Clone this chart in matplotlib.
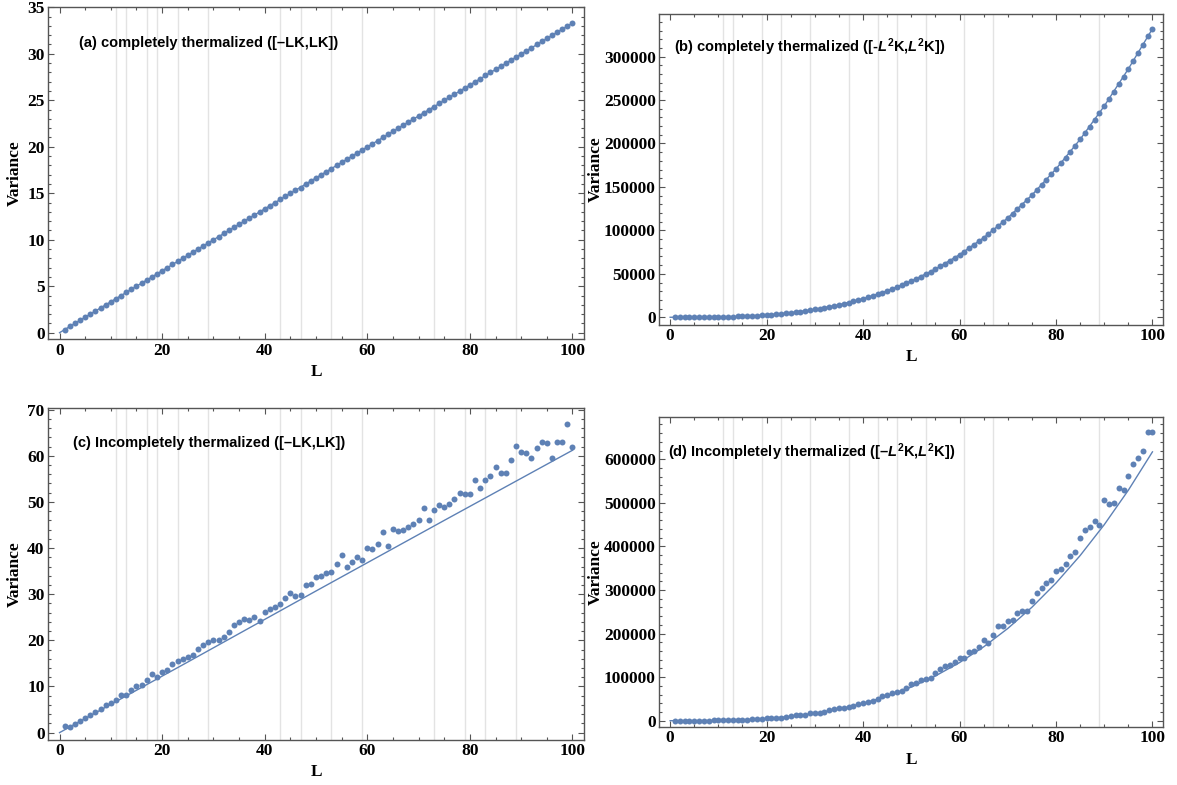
import matplotlib
matplotlib.use("Agg")
import matplotlib.pyplot as plt
from matplotlib.ticker import MultipleLocator

W, H = 1177, 785

L = list(range(1, 101))

# (a) completely thermalized, [-LK, LK]
var_a = [0.33, 0.68, 1.01, 1.33, 1.66, 2.00, 2.34, 2.66, 3.01, 3.33,
         3.67, 4.00, 4.33, 4.67, 5.00, 5.34, 5.66, 6.00, 6.34, 6.67,
         7.00, 7.34, 7.66, 8.00, 8.33, 8.67, 9.00, 9.33, 9.68, 10.0,
         10.33, 10.67, 11.0, 11.33, 11.66, 12.0, 12.34, 12.66, 13.0, 13.33,
         13.67, 14.0, 14.33, 14.68, 15.0, 15.3, 15.55, 16.0, 16.33, 16.66,
         17.0, 17.33, 17.66, 18.0, 18.33, 18.67, 19.0, 19.33, 19.67, 20.0,
         20.33, 20.66, 21.0, 21.33, 21.67, 22.0, 22.33, 22.67, 23.0, 23.33,
         23.67, 24.0, 24.33, 24.67, 25.0, 25.33, 25.67, 26.0, 26.33, 26.67,
         27.0, 27.33, 27.67, 28.0, 28.33, 28.67, 29.0, 29.33, 29.67, 30.0,
         30.33, 30.67, 31.0, 31.33, 31.67, 32.0, 32.33, 32.67, 33.0, 33.3]
line_a_L = [0, 100]
line_a = [0, 33.3]

# (b) completely thermalized, [-L^2K, L^2K]
var_b = [0.3, 3, 9, 21, 42, 72, 114, 171, 243, 333,
         444, 576, 732, 915, 1125, 1365, 1638, 1944, 2286, 2667,
         3087, 3549, 4056, 4608, 5208, 5859, 6561, 7317, 8130, 9000,
         9930, 10920, 11980, 13100, 14290, 15550, 16880, 18290, 19770, 21330,
         22970, 24700, 26500, 28400, 30370, 32440, 34600, 36860, 39210, 41660,
         44210, 46860, 49620, 52480, 55450, 58530, 61720, 65030, 68450, 71990,
         75650, 79430, 83340, 87370, 91530, 95820, 100240, 104800, 109490, 114320,
         119290, 124400, 129650, 135050, 140600, 146300, 152150, 158150, 164310, 170620,
         177100, 183740, 190540, 197500, 204640, 211940, 219420, 227070, 234890, 242890,
         251070, 259430, 267980, 276710, 285630, 294730, 304020, 313500, 323170, 331400]
line_b_L = [0, 5, 10, 15, 20, 25, 30, 35, 40, 45, 50,
            55, 60, 65, 70, 75, 80, 85, 90, 95, 100]
line_b = [0, 42, 333, 1125, 2667, 5208, 9000, 14292, 21333, 30375, 41667,
          55458, 72000, 91542, 114333, 140625, 170667, 204708, 243000, 285792, 332000]

# (c) incompletely thermalized, [-LK, LK]
var_c = [1.5, 1.3, 1.9, 2.5, 3.1, 3.8, 4.4, 5.2, 5.9, 6.4,
         7.0, 8.2, 8.1, 9.3, 10.0, 10.3, 11.3, 12.6, 12.0, 13.2,
         13.6, 14.8, 15.6, 15.9, 16.3, 16.8, 18.1, 18.9, 19.6, 20.0,
         20.0, 20.8, 21.8, 23.3, 23.9, 24.7, 24.5, 25.1, 24.3, 26.2,
         26.8, 27.2, 27.9, 29.1, 30.2, 29.7, 29.9, 32.0, 32.2, 33.7,
         33.9, 34.7, 34.8, 36.5, 38.5, 35.8, 36.9, 38.0, 37.5, 40.1,
         39.8, 40.9, 43.5, 40.5, 44.1, 43.8, 43.9, 44.5, 45.2, 46.1,
         48.7, 46.0, 48.2, 49.3, 48.9, 49.6, 50.6, 52.0, 51.7, 51.8,
         54.8, 53.1, 54.7, 55.7, 57.5, 56.2, 56.3, 59.0, 62.2, 60.8,
         60.6, 59.6, 61.7, 63.0, 62.7, 59.5, 63.0, 63.1, 66.9, 61.9]
line_c_L = [0, 25, 50, 75, 100]
line_c = [0, 15.3, 30.7, 46.0, 61.2]

# (d) incompletely thermalized, [-L^2K, L^2K]
var_d = [1, 6, 20, 45, 85, 140, 220, 330, 460, 640,
         850, 1100, 1400, 1750, 2150, 2600, 3100, 3700, 4400, 6100,
         6100, 6900, 5400, 9200, 9900, 12200, 13800, 13800, 16800, 17600,
         16800, 20600, 24500, 26800, 28300, 29800, 32100, 34400, 38200, 40500,
         42000, 45900, 50500, 55800, 59600, 64200, 65000, 68000, 74900, 84100,
         85600, 93300, 94800, 98600, 110100, 117700, 125400, 126900, 134600, 143000,
         143000, 158300, 160500, 169700, 184200, 178900, 195700, 217900, 217900, 229400,
         230900, 246200, 250800, 252300, 275200, 292000, 305000, 315000, 322600, 344000,
         347800, 360100, 377700, 386800, 419700, 438800, 444900, 458700, 449500, 506100,
         496900, 500000, 535200, 530600, 562700, 588700, 603200, 620000, 662000, 662000]
line_d_L = [0, 5, 10, 15, 20, 25, 30, 35, 40, 45, 50,
            55, 60, 65, 70, 75, 80, 85, 90, 95, 100]
line_d = [0, 77, 617, 2082, 4936, 9641, 16659, 26454, 39488, 56224, 77125,
          102653, 133272, 169444, 211631, 260297, 315904, 378915, 449793, 529000, 617000]

grid_ac = [11, 13, 17, 19, 23, 29, 43, 47, 53, 59, 73, 79, 83, 89]
grid_bd = [11, 13, 19, 23, 29, 37, 43, 47, 53, 61, 67, 89]

labels = ["(a) completely thermalized ([\u2013LK,LK])",
          "(b) completely thermalized ([-$L^2$K,$L^2$K])",
          "(c) Incompletely thermalized ([\u2013LK,LK])",
          "(d) Incompletely thermalized ([\u2013$L^2$K,$L^2$K])"]

plt.rcParams['font.family'] = ['Liberation Serif', 'DejaVu Serif']
plt.rcParams['mathtext.fontset'] = 'custom'
plt.rcParams['mathtext.rm'] = 'Liberation Sans:bold'
plt.rcParams['mathtext.it'] = 'Liberation Sans:italic:bold'
plt.rcParams['mathtext.bf'] = 'Liberation Sans:bold'

blue = '#5E81B5'
frame = '#555555'

fig = plt.figure(figsize=(W / 100, H / 100), dpi=100)


def make_axes(l, t, r, b):
    return fig.add_axes([l / W, 1 - b / H, (r - l) / W, (b - t) / H])


# panel boxes in pixels: left, top, right, bottom
boxes = [(48, 7.3, 584, 339.3), (659.3, 14, 1163.3, 325),
         (48, 408.3, 584, 740), (659.3, 416.7, 1163.3, 726.7)]
ylims = [(-0.71, 35), (-8900, 349000), (-1.6, 70.3), (-13800, 697700)]
ymaj = [5, 50000, 10, 100000]
ymin = [1, 10000, 2, 20000]
series = [(var_a, line_a_L, line_a), (var_b, line_b_L, line_b),
          (var_c, line_c_L, line_c), (var_d, line_d_L, line_d)]
grids = [grid_ac, grid_bd, grid_ac, grid_bd]
txt_pos = [(0.058, 0.893), (0.029, 0.893), (0.046, 0.896), (0.017, 0.887)]
ylab_x = [15, 596, 15, 596]
xlab_y = [371.7, 356.7, 771.7, 760]

for i in range(4):
    l, t, r, b = boxes[i]
    ax = make_axes(l, t, r, b)
    pts, lx, ly = series[i]
    for g in grids[i]:
        ax.axvline(g, color='#e3e3e3', lw=1, zorder=0)
    ax.plot(lx, ly, color=blue, lw=1, zorder=2)
    ax.plot(L, pts, 'o', color=blue, ms=4.3, mew=0, zorder=3)
    ax.set_xlim(-2.25, 102.25)
    ax.set_ylim(*ylims[i])
    ax.xaxis.set_major_locator(MultipleLocator(20))
    ax.xaxis.set_minor_locator(MultipleLocator(5))
    ax.yaxis.set_major_locator(MultipleLocator(ymaj[i]))
    ax.yaxis.set_minor_locator(MultipleLocator(ymin[i]))
    for s in ax.spines.values():
        s.set_color(frame)
        s.set_linewidth(1.0)
    ax.tick_params(which='both', direction='in', top=True, right=True,
                   color=frame, width=0.8)
    ax.tick_params(which='major', length=4.5, labelsize=12.5, pad=2.5)
    ax.tick_params(which='minor', length=2.3)
    for lab in ax.get_xticklabels() + ax.get_yticklabels():
        lab.set_fontweight('bold')
    ax.text(txt_pos[i][0], txt_pos[i][1], labels[i], transform=ax.transAxes,
            family='Liberation Sans', fontweight='bold', fontsize=10.5,
            ha='left', va='center')
    fig.text(ylab_x[i] / W, 1 - (t + b) / 2 / H, 'Variance', rotation=90,
             ha='center', va='center', fontsize=12.5, fontweight='bold')
    fig.text((l + r) / 2 / W, 1 - xlab_y[i] / H, 'L',
             ha='center', va='center', fontsize=12.5, fontweight='bold')

fig.savefig('out.png', dpi=100)
